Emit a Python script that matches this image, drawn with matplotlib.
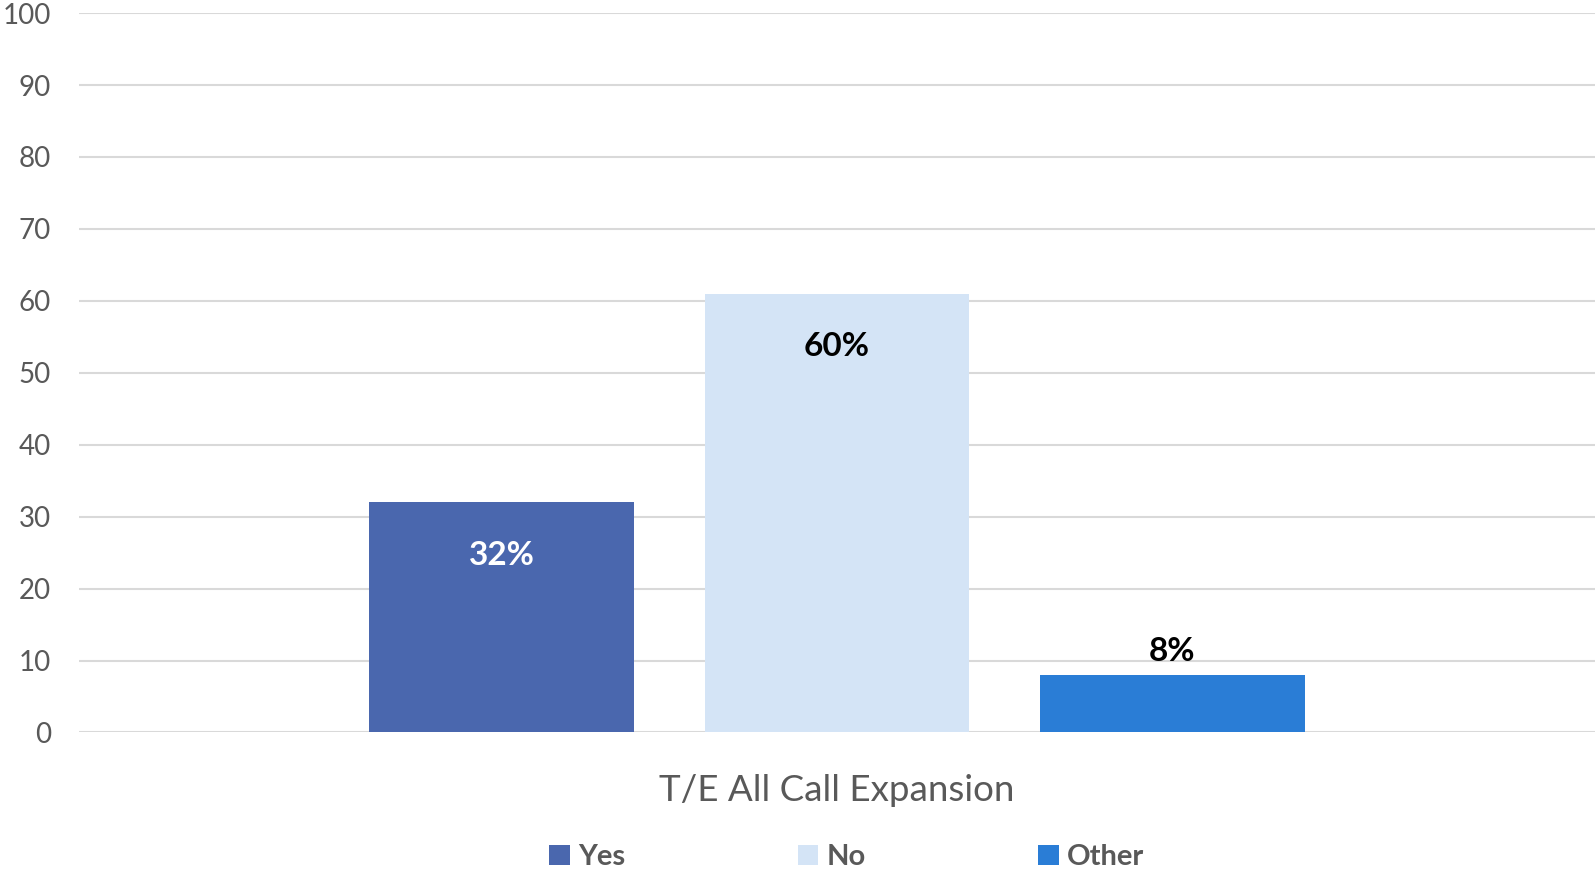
"""
T/E All Call Expansion — single-category clustered bar chart (Yes / No / Other)
"""
import matplotlib
matplotlib.use("Agg")
import matplotlib.pyplot as plt
from matplotlib.patches import Patch

# ── Data ────────────────────────────────────────────────────────────────────
series = ["Yes", "No", "Other"]
values = [32, 61, 8]
labels = ["32%", "60%", "8%"]
category = "T/E All Call Expansion"
yticks = [0, 10, 20, 30, 40, 50, 60, 70, 80, 90, 100]

colors = ["#4A67AE", "#D4E4F6", "#2A7DD6"]
label_colors = ["white", "black", "black"]

plt.rcParams["font.family"] = ["Lato", "DejaVu Sans"]

fig = plt.figure(figsize=(15.95, 8.72), dpi=100)
ax = fig.add_axes([0.0495, 0.160, 0.9505, 0.825])

pos = list(range(len(series)))
bars = ax.bar(pos, values, width=0.788, color=colors, zorder=2)

# labels: inside top for tall bars, above for the short one
for b, v, lab, c in zip(bars, values, labels, label_colors):
    x = b.get_x() + b.get_width() / 2
    if v > 20:
        ax.text(x, v - 7.4, lab, ha="center", va="center", fontsize=24,
                fontweight="bold", color=c, zorder=3)
    else:
        ax.text(x, v + 3.3, lab, ha="center", va="center", fontsize=24,
                fontweight="bold", color=c, zorder=3)

ax.set_xlim(-1.26, 3.26)
ax.set_ylim(0, 100)
ax.set_yticks(yticks)
ax.set_yticklabels([str(t) for t in yticks], fontsize=20, color="#595959")
ax.tick_params(axis="y", length=0, pad=20)
ax.set_xticks([])
ax.grid(axis="y", color="#D9D9D9", linewidth=1.5, zorder=0)
for s in ax.spines.values():
    s.set_visible(False)

ax.set_xlabel(category, fontsize=26.5, color="#595959", labelpad=30)

handles = [Patch(facecolor=c, edgecolor="none") for c in colors]
fig.legend(handles, series, loc="center", bbox_to_anchor=(0.531, 0.017),
           ncol=3, frameon=False, handlelength=0.7, handleheight=0.7,
           handletextpad=0.3, columnspacing=5.9,
           prop={"size": 21, "weight": "bold"}, labelcolor="#595959")

plt.savefig("out.png", dpi=100)
